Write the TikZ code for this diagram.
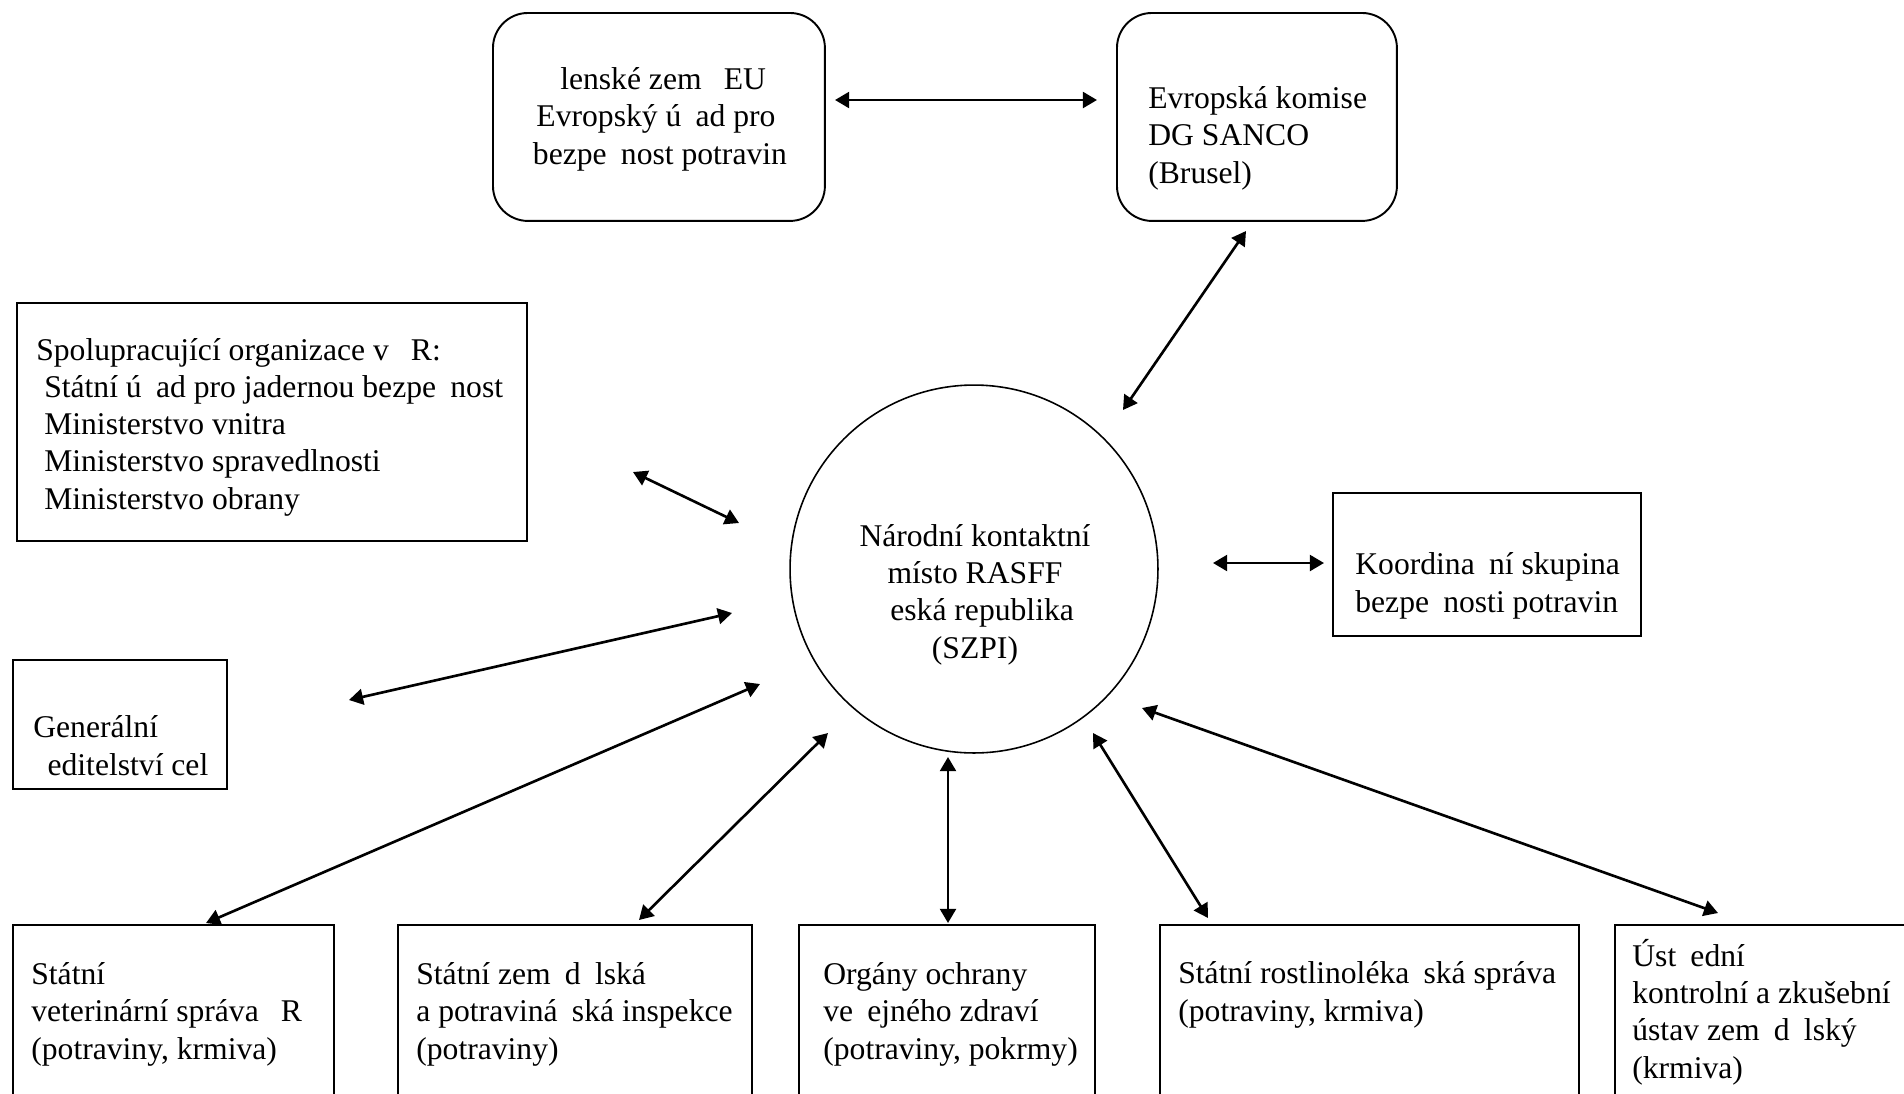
\documentclass[tikz,border=0pt]{standalone}
\usepackage{fontspec}
\setmainfont{Liberation Serif}
\usetikzlibrary{arrows.meta}

\newcommand{\gap}{\hspace*{0.45em}}

\begin{document}
\begin{tikzpicture}[
  x = 0.02cm, y = -0.02cm,
  every node/.style = {font = \fontsize{18}{21.2}\selectfont},
  box/.style = {draw, line width = 1.1pt, inner sep = 0pt, anchor = north west},
  roundbox/.style = {box, rounded corners = 0.7cm},
  hub/.style = {draw, circle, line width = 0.9pt, minimum size = 7.36cm, inner sep = 0pt},
  txt/.style = {inner sep = 0pt, anchor = base west, align = left},
  ctxt/.style = {inner sep = 0pt, anchor = base, align = center},
  link/.style = {{Triangle[length = 8pt, width = 9pt]}-{Triangle[length = 8pt, width = 9pt]}, line width = 1.5pt}
]
\useasboundingbox (0,0) rectangle (1904,1093);
\clip (0,0) rectangle (1904,1093);

% text nodes sit on the baseline of their last line
\node [roundbox, minimum width = 6.64cm, minimum height = 4.16cm] (eu) at (492,12) {};
\node [ctxt] (eu-t) at (656,164) {\gap lenské zem\gap\ EU\\ Evropský ú\gap ad pro\\ \ bezpe\gap nost potravin};

\node [roundbox, minimum width = 5.6cm, minimum height = 4.16cm] (dg) at (1116,12) {};
\node [txt] (dg-t) at (1148,183) {Evropská komise\\ DG SANCO\\ (Brusel)};

\node [box, minimum width = 10.2cm, minimum height = 4.76cm] (spol) at (16,302) {};
\node [txt] (spol-t) at (36,509) {Spolupracující organizace v\ \gap R:\\ \ Státní ú\gap ad pro jadernou bezpe\gap nost\\ \ Ministerstvo vnitra\\ \ Ministerstvo spravedlnosti\\ \ Ministerstvo obrany};

\node [box, minimum width = 4.28cm, minimum height = 2.58cm] (gen) at (12,659) {};
\node [txt] (gen-t) at (33,775) {Generální\\ \gap editelství cel};

\node [box, minimum width = 6.16cm, minimum height = 2.86cm] (koord) at (1332,492) {};
\node [txt] (koord-t) at (1355,612) {Koordina\gap ní skupina\\ bezpe\gap nosti potravin};

\node [hub] (nkm) at (974,569) {};
\node [ctxt] (nkm-t) at (975,658) {Národní kontaktní\\ místo RASFF\\ \gap eská republika\\ (SZPI)};

\node [box, minimum width = 6.42cm, minimum height = 4cm] (vet) at (12,924) {};
\node [txt] (vet-t) at (31,1059) {Státní\\ veterinární správa\ \gap R\\ (potraviny, krmiva)};

\node [box, minimum width = 7.08cm, minimum height = 4cm] (szpi) at (397,924) {};
\node [txt] (szpi-t) at (416,1059) {Státní zem\gap d\gap lská\\ a potraviná\gap ská inspekce\\ (potraviny)};

\node [box, minimum width = 5.92cm, minimum height = 4cm] (ochr) at (798,924) {};
\node [txt] (ochr-t) at (823,1059) {Orgány ochrany\\ ve\gap ejného zdraví\\ (potraviny, pokrmy)};

\node [box, minimum width = 8.38cm, minimum height = 4cm] (srs) at (1159,924) {};
\node [txt] (srs-t) at (1178,1021) {Státní rostlinoléka\gap ská správa\\ (potraviny, krmiva)};

\node [box, minimum width = 6.4cm, minimum height = 4cm] (ukzuz) at (1614,924) {};
\node [txt] (ukzuz-t) at (1632,1078) {Úst\gap ední\\ kontrolní a zkušební\\ ústav zem\gap d\gap lský\\ (krmiva)};

\coordinate (eu-e) at (835,100);
\coordinate (dg-w) at (1097,100);
\coordinate (dg-s) at (1246,231);
\coordinate (nkm-ne) at (1123,410);
\coordinate (spol-e) at (633,472);
\coordinate (nkm-nw) at (739,523);
\coordinate (gen-e) at (349,700);
\coordinate (nkm-w) at (732,613);
\coordinate (nkm-e) at (1213,563);
\coordinate (koord-w) at (1324,563);
\coordinate (vet-n) at (206,923);
\coordinate (nkm-sw) at (760,684);
\coordinate (szpi-n) at (639,920);
\coordinate (nkm-ssw) at (828,733);
\coordinate (ochr-n) at (948,923);
\coordinate (nkm-s) at (948,757);
\coordinate (srs-n) at (1208,918);
\coordinate (nkm-sse) at (1093,733);
\coordinate (ukzuz-n) at (1718,913);
\coordinate (nkm-se) at (1142,708);

\foreach \from/\to in {eu-e/dg-w, dg-s/nkm-ne, spol-e/nkm-nw, gen-e/nkm-w,
  nkm-e/koord-w, vet-n/nkm-sw, szpi-n/nkm-ssw, ochr-n/nkm-s,
  srs-n/nkm-sse, ukzuz-n/nkm-se}
  \draw [link] (\from) -- (\to);

\end{tikzpicture}
\end{document}
